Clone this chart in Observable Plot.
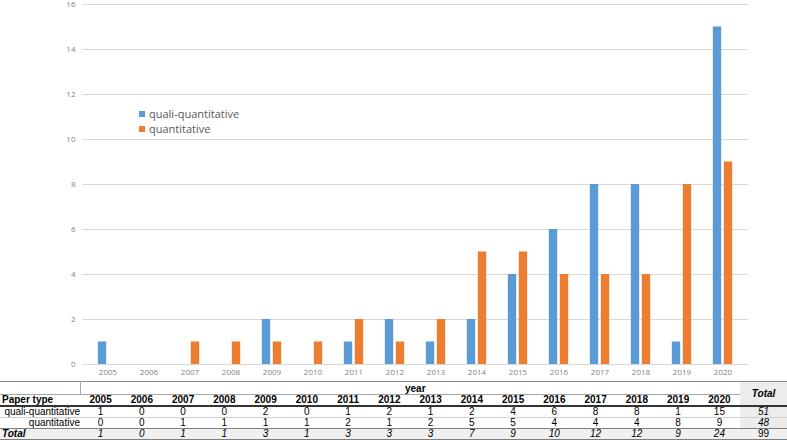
<!DOCTYPE html>
<html>
<head>
<meta charset="utf-8">
<script src="https://cdn.jsdelivr.net/npm/d3@7"></script>
<script src="https://cdn.jsdelivr.net/npm/@observablehq/plot@0.6"></script>
<style>
  body { margin: 0; background: #fff; }
  #wrap { position: relative; width: 787px; }
  #chart svg { display: block; }
  #legend { position: absolute; left: 139px; top: 106px; font-family: "Open Sans", sans-serif; font-size: 11px; color: #595959; line-height: 15px; }
  #legend .sw { display: inline-block; width: 6px; height: 6px; margin-right: 4px; vertical-align: 1px; }
  #table { margin-top: 1px; }
  table { border-collapse: collapse; table-layout: fixed; width: 787px; font-family: "Liberation Sans", Arial, sans-serif; font-size: 10px; line-height: 10px; color: #000; }
  td, th { padding: 0; height: 10px; text-align: center; white-space: nowrap; overflow: hidden; }
  th { font-weight: bold; }
  .r0 td, .r0 th { border-top: 1px solid #8c8c8c; border-bottom: 1px solid #a6a6a6; height: 11px; padding-top: 1px; }
  .r1 td, .r1 th { border-bottom: 2px solid #333; }
  .r2 td, .r3 td { border-bottom: 1px solid #d0d0d0; }
  .r3 td { border-bottom: 1px solid #7f7f7f; }
  .r4 td { border-bottom: 1px solid #7f7f7f; background: #f0f0f0; font-style: italic; height: 10px; }
  .tot { background: #ececec; font-style: italic; }
  .totHead { background: #ececec; font-style: italic; font-weight: bold; border-bottom: 2px solid #333 !important; font-size: 10px; }
</style>
</head>
<body>
<div id="wrap">
  <div id="chart"></div>
  <div id="legend"></div>
  <div id="table"></div>
</div>
<script>
const years = ["2005","2006","2007","2008","2009","2010","2011","2012","2013","2014","2015","2016","2017","2018","2019","2020"];
const qualiQuantitative = [1,0,0,0,2,0,1,2,1,2,4,6,8,8,1,15];
const quantitative = [0,0,1,1,1,1,2,1,2,5,5,4,4,4,8,9];
const seriesNames = ["quali-quantitative","quantitative"];
const seriesColors = ["#5B9BD5","#ED7D31"];
const yTicks = [0,2,4,6,8,10,12,14,16];
const tableHeader = "Paper type";
const tableGroupLabel = "year";
const totalLabel = "Total";

const seriesValues = [qualiQuantitative, quantitative];
const rows = [];
seriesNames.forEach((name, s) => years.forEach((y, i) => rows.push({year: y, type: name, value: seriesValues[s][i]})));

const W = 787, H = 380, mL = 82, mR = 39;
const band = (W - mL - mR) / years.length;
const barW = 9;
const inset = (band - barW) / 2;

const chart = Plot.plot({
  width: W, height: H,
  marginLeft: mL, marginRight: mR, marginTop: 4, marginBottom: 16,
  style: {fontFamily: "Open Sans, sans-serif", fontSize: "8px", color: "#7f7f7f", background: "#fff"},
  x: {domain: years, padding: 0, label: null, tickSize: 0, tickPadding: 5},
  y: {domain: [0, 16], ticks: yTicks, label: null, tickSize: 0, tickPadding: 7},
  marks: [
    Plot.ruleY(yTicks, {stroke: "#d9d9d9", strokeOpacity: 1}),
    Plot.barY(rows.filter(d => d.type === seriesNames[0]), {x: "year", y: "value", fill: seriesColors[0], insetLeft: inset, insetRight: inset, dx: -5.5}),
    Plot.barY(rows.filter(d => d.type === seriesNames[1]), {x: "year", y: "value", fill: seriesColors[1], insetLeft: inset, insetRight: inset, dx: 5.5})
  ]
});
document.getElementById("chart").appendChild(chart);

document.getElementById("legend").innerHTML = seriesNames.map((n, i) =>
  `<div><span class="sw" style="background:${seriesColors[i]}"></span>${n}</div>`).join("");

// table
const sum = a => a.reduce((p, c) => p + c, 0);
const yearTotals = years.map((y, i) => qualiQuantitative[i] + quantitative[i]);
let html = `<table><colgroup><col style="width:80px">` + years.map(() => `<col style="width:${(660/years.length).toFixed(3)}px">`).join("") + `<col style="width:47px"></colgroup>`;
html += `<tr class="r0"><td style="border-right:1px solid #a6a6a6"></td><th colspan="${years.length}" style="padding-left:10px">${tableGroupLabel}</th><td rowspan="2" class="totHead">${totalLabel}</td></tr>`;
html += `<tr class="r1"><th style="text-align:left;padding-left:2px">${tableHeader}</th>` + years.map(y => `<th>${y}</th>`).join("") + `</tr>`;
seriesNames.forEach((n, s) => {
  html += `<tr class="r${s+2}"><td style="text-align:right">${n}</td>` + seriesValues[s].map(v => `<td>${v}</td>`).join("") + `<td class="tot">${sum(seriesValues[s])}</td></tr>`;
});
html += `<tr class="r4"><td style="text-align:left;font-weight:bold;padding-left:2px">${totalLabel}</td>` + yearTotals.map(v => `<td>${v}</td>`).join("") + `<td style="font-style:normal">${sum(yearTotals)}</td></tr>`;
html += `</table>`;
document.getElementById("table").innerHTML = html;
</script>
</body>
</html>
